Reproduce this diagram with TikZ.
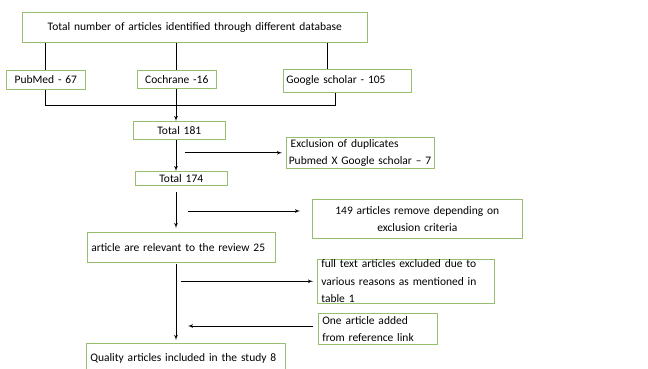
\documentclass[tikz,border=0pt]{standalone}
\usepackage{xcolor}
\usepackage{fontspec}
\setmainfont{Carlito}[WordSpace=0.6]
\usepackage{tikz}
\usetikzlibrary{arrows}
\definecolor{boxgreen}{RGB}{150,190,110}
\tikzstyle{block} = [rectangle, draw=boxgreen, line width=0.6pt, anchor=north west, inner xsep=4pt, inner ysep=0pt, font=\fontsize{11.5}{17.5}\selectfont]
\tikzstyle{link} = [line width=0.7pt]
\tikzstyle{arrow} = [line width=0.7pt, -latex']

\begin{document}
\begin{tikzpicture}[x=1pt, y=-1pt]
    \useasboundingbox (0,0) rectangle (648,369);
    \clip (0,0) rectangle (648,369);
    % Sources
    \node [block, text width=337pt, minimum height=30pt, align=center] (total) at (22,12) {Total number of articles identified through different database};
    \node [block, text width=71pt, minimum height=19pt, align=center] (pubmed) at (6,70) {PubMed - 67};
    \node [block, text width=71pt, minimum height=18pt, align=center] (cochrane) at (137,70) {Cochrane -16};
    \node [block, text width=122pt, inner xsep=3pt, minimum height=23pt, align=left] (google) at (283,69) {Google scholar - 105};
    
    % Screening
    \node [block, text width=84pt, minimum height=18pt, align=center] (total181) at (133,121) {Total 181};
    \node [block, text width=143pt, inner xsep=2.5pt, minimum height=31pt, align=left] (excl) at (286,137) {\,Exclusion of duplicates\\Pubmed X Google scholar -- 7};
    \node [block, text width=84pt, minimum height=14pt, align=center] (total174) at (135,171) {Total 174};
    \node [block, text width=202pt, minimum height=39pt, align=center] (removed) at (312,199) {149 articles remove depending on\\exclusion criteria};
    \node [block, text width=180pt, minimum height=30pt, align=left] (relevant) at (87,232) {article are relevant to the review 25};
    \node [block, text width=169pt, minimum height=44pt, align=left] (fulltext) at (317,259) {full text articles excluded due to\\various reasons as mentioned in\\table 1};
    \node [block, text width=111pt, minimum height=31pt, align=left] (onearticle) at (318,313) {One article added\\from reference link};
    \node [block, text width=191pt, minimum height=30pt, align=left] (quality) at (86,343) {Quality articles included in the study 8};
    
    % Helper coordinates
    \coordinate (spine) at (176,0);
    \coordinate (gin) at (327,0);
    \coordinate (gout) at (335,0);
    \coordinate (merge) at (0,105);
    \coordinate (cut) at (0,211);
    \coordinate (add) at (0,326);
    
    % Connectors
    \draw [link] (total.south -| pubmed.north) -- (pubmed.north);
    \draw [link] (total.south -| spine) -- (cochrane.north -| spine);
    \draw [link] (total.south -| gin) -- (google.north -| gin);
    \draw [link, line width=1pt] (pubmed.south) -- (pubmed.south |- merge) -- (gout |- merge) -- (google.south -| gout);
    \draw [arrow] (cochrane.south -| spine) -- (total181.north -| spine);
    \draw [arrow] (total181.south -| spine) -- (total174.north -| spine);
    \draw [arrow, shorten <=9pt, shorten >=4pt] (spine |- excl.west) -- (excl.west);
    \draw [arrow, shorten <=6pt, shorten >=4pt] (total174.south -| spine) -- (relevant.north -| spine);
    \draw [arrow, shorten <=12pt, shorten >=12pt] (spine |- cut) -- (removed.west |- cut);
    \draw [arrow, shorten <=1pt, shorten >=3pt] (relevant.south -| spine) -- (quality.north -| spine);
    \draw [arrow, shorten <=5pt, shorten >=4pt] (spine |- fulltext.west) -- (fulltext.west);
    \draw [arrow, shorten <=5pt, shorten >=12pt] (onearticle.west |- add) -- (spine |- add);
\end{tikzpicture}
\end{document}
